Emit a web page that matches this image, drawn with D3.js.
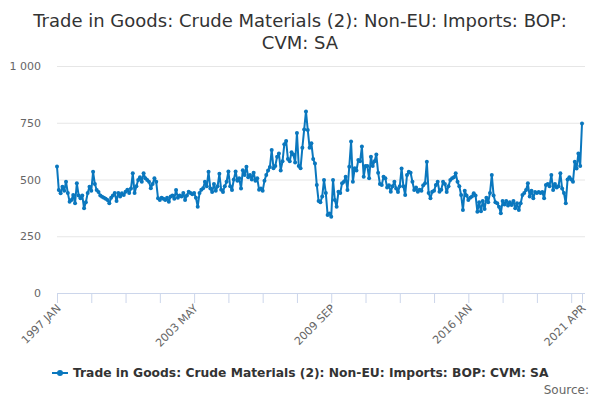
<!DOCTYPE html>
<html>
  <head>
    <meta charset="utf-8">
    <title>Trade in Goods: Crude Materials</title>
    <script src="https://d3js.org/d3.v7.min.js" charset="utf-8"></script>
    <style>
    body{
      margin:0;
      font-family:"DejaVu Sans", sans-serif;
    }
    </style>
  </head>
  <body>

    <div id="chart"></div>

    <script type="text/javascript">
      var title = ["Trade in Goods: Crude Materials (2): Non-EU: Imports: BOP:", "CVM: SA"];
      var seriesName = "Trade in Goods: Crude Materials (2): Non-EU: Imports: BOP: CVM: SA";

      // monthly values, 1997 JAN .. 2021 APR
      var values = [
        557, 454, 439, 468, 450, 490, 440, 402, 410, 432,
        395, 483, 430, 417, 430, 373, 400, 440, 468, 450,
        534, 480, 454, 445, 430, 424, 420, 415, 410, 395,
        420, 430, 440, 405, 440, 425, 439, 432, 446, 455,
        440, 460, 527, 440, 470, 498, 510, 490, 527, 505,
        498, 490, 461, 480, 505, 490, 417, 410, 420, 415,
        410, 420, 402, 425, 430, 415, 454, 420, 430, 425,
        440, 410, 430, 446, 440, 435, 440, 420, 380, 440,
        455, 461, 490, 470, 534, 460, 445, 480, 450, 470,
        525, 455, 445, 470, 490, 535, 470, 454, 500, 535,
        495, 505, 460, 541, 520, 556, 510, 520, 500, 530,
        495, 505, 455, 460, 450, 495, 520, 540, 555, 630,
        550, 560, 600, 615, 540, 580, 655, 670, 590, 580,
        620, 610, 575, 705, 560, 550, 640, 720, 800, 718,
        640, 660, 590, 570, 476, 405, 400, 425, 498, 440,
        344, 350, 336, 498, 410, 380, 446, 440, 484, 490,
        512, 454, 556, 667, 490, 550, 540, 586, 580, 645,
        512, 560, 560, 505, 600, 560, 580, 610, 530, 480,
        476, 512, 505, 465, 475, 446, 470, 490, 460, 445,
        470, 549, 470, 432, 520, 534, 530, 490, 454, 465,
        446, 455, 450, 475, 483, 578, 440, 417, 446, 450,
        476, 490, 446, 455, 490, 480, 445, 470, 498, 505,
        510, 527, 490, 470, 432, 366, 450, 430, 410, 420,
        425, 439, 430, 358, 400, 360, 405, 370, 420, 400,
        440, 520, 430, 400, 395, 380, 351, 405, 390, 405,
        385, 400, 388, 405, 373, 395, 366, 395, 432, 440,
        454, 483, 425, 450, 417, 445, 440, 445, 440, 445,
        417, 476, 480, 470, 520, 454, 480, 465, 470, 527,
        460, 440, 395, 500, 510, 500, 490, 578, 549, 615,
        560, 747
      ];

      var tickLabels = ["1997 JAN", "2003 MAY", "2009 SEP", "2016 JAN", "2021 APR"];
      var tickLabelIndex = [0, 76, 152, 228, 291];
      var tickStep = 19;
      var yTicks = [0, 250, 500, 750, 1000];

      var width = 600, height = 400;
      var plotLeft = 57, plotRight = 582, plotTop = 66, plotBottom = 293;

      var svg = d3.select("#chart").append("svg")
        .attr("width", width)
        .attr("height", height);

      var x = d3.scaleLinear().domain([0, values.length - 1]).range([plotLeft, plotRight]);
      var y = d3.scaleLinear().domain([0, 1000]).range([plotBottom, plotTop]);

      // title
      svg.append("text")
        .attr("text-anchor", "middle")
        .attr("fill", "#333333")
        .style("font-size", "18px")
        .selectAll("tspan")
        .data(title)
        .enter()
        .append("tspan")
        .attr("x", width / 2)
        .attr("y", function(d, i){ return 27 + i * 22; })
        .text(function(d){ return d; });

      // grid + y labels
      var yAxis = d3.axisLeft(y).tickValues(yTicks)
        .tickSize(-(585 - plotLeft))
        .tickFormat(function(d){ return d3.format(",")(d).replace(",", " "); });

      var yg = svg.append("g")
        .attr("transform", "translate(" + plotLeft + ",0)")
        .call(yAxis);
      yg.select(".domain").remove();
      yg.selectAll(".tick line").attr("stroke", "#e6e6e6");
      yg.selectAll(".tick text")
        .attr("x", -16)
        .attr("fill", "#666666")
        .style("font-size", "11px")
        .style("font-family", "DejaVu Sans, sans-serif");

      // x axis
      var xTicks = d3.range(0, values.length, tickStep);
      xTicks.push(values.length - 1);

      var xAxis = d3.axisBottom(x).tickValues(xTicks).tickSize(10)
        .tickFormat(function(d){
          var k = tickLabelIndex.indexOf(d);
          return k < 0 ? "" : tickLabels[k];
        });

      var xg = svg.append("g")
        .attr("transform", "translate(0," + plotBottom + ")")
        .call(xAxis);
      xg.select(".domain").attr("stroke", "#ccd6eb").attr("d", "M" + plotLeft + ",0.5H" + (plotRight + 3));
      xg.selectAll(".tick line").attr("stroke", "#ccd6eb");
      xg.selectAll(".tick text")
        .attr("fill", "#666666")
        .style("font-size", "11px")
        .style("font-family", "DejaVu Sans, sans-serif")
        .attr("text-anchor", "end")
        .attr("dy", null)
        .attr("y", 0)
        .attr("x", 0)
        .attr("transform", "translate(4,16) rotate(-45)");

      // series
      var line = d3.line()
        .x(function(d, i){ return x(i); })
        .y(function(d){ return y(d); });

      svg.append("path")
        .datum(values)
        .attr("fill", "none")
        .attr("stroke", "#0a77be")
        .attr("stroke-width", 2)
        .attr("stroke-linejoin", "round")
        .attr("d", line);

      svg.append("g").selectAll("circle")
        .data(values)
        .enter()
        .append("circle")
        .attr("cx", function(d, i){ return x(i); })
        .attr("cy", function(d){ return y(d); })
        .attr("r", 2)
        .attr("fill", "#0a77be");

      // legend
      var lg = svg.append("g").attr("transform", "translate(52,373)");
      lg.append("line")
        .attr("x1", 0).attr("x2", 16)
        .attr("stroke", "#0a77be").attr("stroke-width", 2);
      lg.append("circle").attr("cx", 8).attr("r", 3).attr("fill", "#0a77be");
      lg.append("text")
        .attr("x", 21)
        .attr("y", 4)
        .attr("fill", "#333333")
        .style("font-size", "12.3px")
        .style("font-weight", "bold")
        .text(seriesName);

      svg.append("text")
        .attr("x", 589)
        .attr("y", 394)
        .attr("text-anchor", "end")
        .attr("fill", "#666666")
        .style("font-size", "12px")
        .text("Source:");
    </script>
  </body>
</html>
